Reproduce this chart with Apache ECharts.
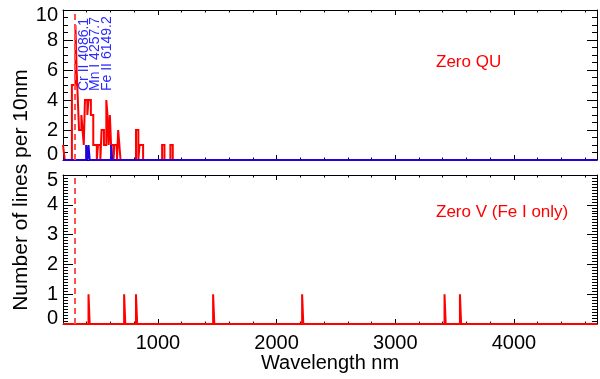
<!DOCTYPE html>
<html>
<head>
<meta charset="utf-8">
<script src="https://cdn.jsdelivr.net/npm/echarts@6/dist/echarts.min.js"></script>
<style>
  html, body { margin: 0; padding: 0; background: #fff; }
  #chart { width: 600px; height: 379px; }
</style>
</head>
<body>
<div id="chart"></div>
<script>
// histogram of lines per 10 nm bin, bins from 200 nm
const binStart = 200
const binWidth = 10
const quCounts = [
  1, 1, 0, 0, 0, 0, 0, 0, 5, 5,   // 200-290
  5, 9, 6, 4, 2, 2, 3, 2, 1, 4,   // 300-390
  4, 3, 4, 4, 3, 3, 1, 1, 1, 0,   // 400-490
  1, 1, 0, 2, 2, 1, 1, 4, 3, 1,   // 500-590
  3, 1, 1, 0, 1, 1, 0, 2, 1, 0,   // 600-690
  0, 0, 0, 0, 0, 0, 0, 0, 0, 0,   // 700-790
  0, 0, 2, 2, 0, 1, 1, 1, 0, 0,   // 800-890
  0, 0, 0, 0, 0, 0, 0, 0, 0, 0,   // 900-990
  0, 0, 0, 0, 1, 1, 0, 0, 0, 0,   // 1000-1090
  0, 1, 1, 0                      // 1100-1130
]
const quCenters = quCounts.map((c, i) => binStart + i * binWidth)
const quBlueBins = [400, 420, 610]
const quBlueCounts = [1, 1, 1]
const vBins = [420, 720, 820, 1470, 2220, 3420, 3550]
const vCounts = [1, 1, 1, 1, 1, 1, 1]
const cutoff = 300
const xMin = 200
const xMax = 4700
const xMajor = [1000, 2000, 3000, 4000]
const xMinor = [400, 600, 800, 1200, 1400, 1600, 1800, 2200, 2400, 2600, 2800,
  3200, 3400, 3600, 3800, 4200, 4400, 4600]
const lineLabels = ['Cr II 4086.1', 'Mn I 4257.7', 'Fe II 6149.2']

const font = 'Liberation Sans, Arial, Helvetica, sans-serif'

// corner points of a histogram outline (steps centred on the bin values)
function stepCorners(centers, counts) {
  const val = new Map(centers.map((c, i) => [c, counts[i]]))
  let cur = val.get(xMin) || 0
  const pts = [[xMin, cur]]
  for (let c = xMin + binWidth; c < xMax; c += binWidth) {
    const v = val.get(c) || 0
    if (v !== cur) {
      const e = c - binWidth / 2
      pts.push([e, cur], [e, v])
      cur = v
    }
  }
  pts.push([xMax, cur])
  return pts
}

function xAxes(grid, withLabels) {
  const base = { gridIndex: grid, type: 'value', min: xMin, max: xMax, splitLine: { show: false } }
  const line = { onZero: false, lineStyle: { color: '#000', width: 1 } }
  const major = { inside: true, length: 5, customValues: xMajor, lineStyle: { color: '#000' } }
  const minor = { inside: true, length: 2.5, customValues: xMinor, lineStyle: { color: '#000' } }
  return [
    {
      ...base, position: 'bottom', axisLine: line, axisTick: major,
      axisLabel: {
        show: withLabels, customValues: xMajor, formatter: v => String(v),
        color: '#000', fontSize: 20, fontFamily: font, margin: 9,
      },
      name: withLabels ? 'Wavelength nm' : '',
      nameLocation: 'middle', nameGap: 26,
      nameTextStyle: { color: '#000', fontSize: 20, fontFamily: font },
    },
    { ...base, position: 'bottom', axisLine: { show: false, onZero: false }, axisTick: minor, axisLabel: { show: false } },
    { ...base, position: 'top', axisLine: line, axisTick: major, axisLabel: { show: false } },
    { ...base, position: 'top', axisLine: { show: false, onZero: false }, axisTick: minor, axisLabel: { show: false } },
  ]
}

function yAxes(grid, max, interval, minorSplit) {
  const base = {
    gridIndex: grid, type: 'value', min: 0, max: max, interval: interval,
    splitLine: { show: false },
    axisLine: { onZero: false, lineStyle: { color: '#000', width: 1 } },
    axisTick: { inside: true, length: 10, lineStyle: { color: '#000' } },
    minorTick: { show: true, splitNumber: minorSplit, length: 5, lineStyle: { color: '#000' } },
  }
  return [
    {
      ...base, position: 'left',
      axisLabel: {
        color: '#000', fontSize: 20, fontFamily: font, margin: 5,
        formatter: v => v === 0 ? '{lo|0}' : v === max ? '{hi|' + v + '}' : String(v),
        rich: {
          lo: { fontSize: 20, fontFamily: font, color: '#000', padding: [0, 0, 12, 0] },
          hi: { fontSize: 20, fontFamily: font, color: '#000', padding: [11, 0, 0, 0] },
        },
      },
    },
    { ...base, position: 'right', axisLabel: { show: false } },
  ]
}

const chart = echarts.init(document.getElementById('chart'))

const cutoffLine = {
  silent: true,
  symbol: 'none',
  label: { show: false },
  lineStyle: { color: '#ff5050', type: [6, 4], width: 2 },
  data: [{ xAxis: cutoff }],
}

function histSeries(name, xi, yi, data, color, z, withCutoff) {
  return {
    name, type: 'line',
    xAxisIndex: xi, yAxisIndex: yi,
    data, symbol: 'none', clip: false,
    lineStyle: { color, width: 2, join: 'miter', cap: 'butt' },
    markLine: withCutoff ? cutoffLine : undefined,
    z,
  }
}

chart.setOption({
  animation: false,
  grid: [
    { left: 63, right: 3, top: 10, height: 150 },
    { left: 63, right: 3, top: 175, height: 149 },
  ],
  xAxis: [...xAxes(0, false), ...xAxes(1, true)],
  yAxis: [...yAxes(0, 10, 2, 4), ...yAxes(1, 5, 1, 10)],
  series: [
    histSeries('Zero QU', 0, 0, stepCorners(quCenters, quCounts), '#ff0000', 2, true),
    histSeries('lines', 0, 0, stepCorners(quBlueBins, quBlueCounts), '#2200dd', 3, false),
    histSeries('Zero V', 4, 2, stepCorners(vBins, vCounts), '#ff0000', 2, true),
  ],
  graphic: [
    {
      type: 'text', x: 21, y: 190, rotation: Math.PI / 2,
      style: { text: 'Number of lines per 10nm', fill: '#000', font: '21px ' + font, align: 'center', verticalAlign: 'middle', textAlign: 'center', textVerticalAlign: 'middle' },
    },
    {
      type: 'text', x: 436, y: 62,
      style: { text: 'Zero QU', fill: '#ff0000', font: '17px ' + font, align: 'left', verticalAlign: 'middle', textAlign: 'left', textVerticalAlign: 'middle' },
    },
    {
      type: 'text', x: 436, y: 212,
      style: { text: 'Zero V (Fe I only)', fill: '#ff0000', font: '17px ' + font, align: 'left', verticalAlign: 'middle', textAlign: 'left', textVerticalAlign: 'middle' },
    },
    ...lineLabels.map((t, i) => ({
      type: 'text', x: [84.5, 95.5, 107.5][i], y: 91, rotation: Math.PI / 2,
      style: { text: t, fill: '#2b2bff', font: '14px ' + font, align: 'left', verticalAlign: 'middle', textAlign: 'left', textVerticalAlign: 'middle' },
    })),
  ],
})
</script>
</body>
</html>
